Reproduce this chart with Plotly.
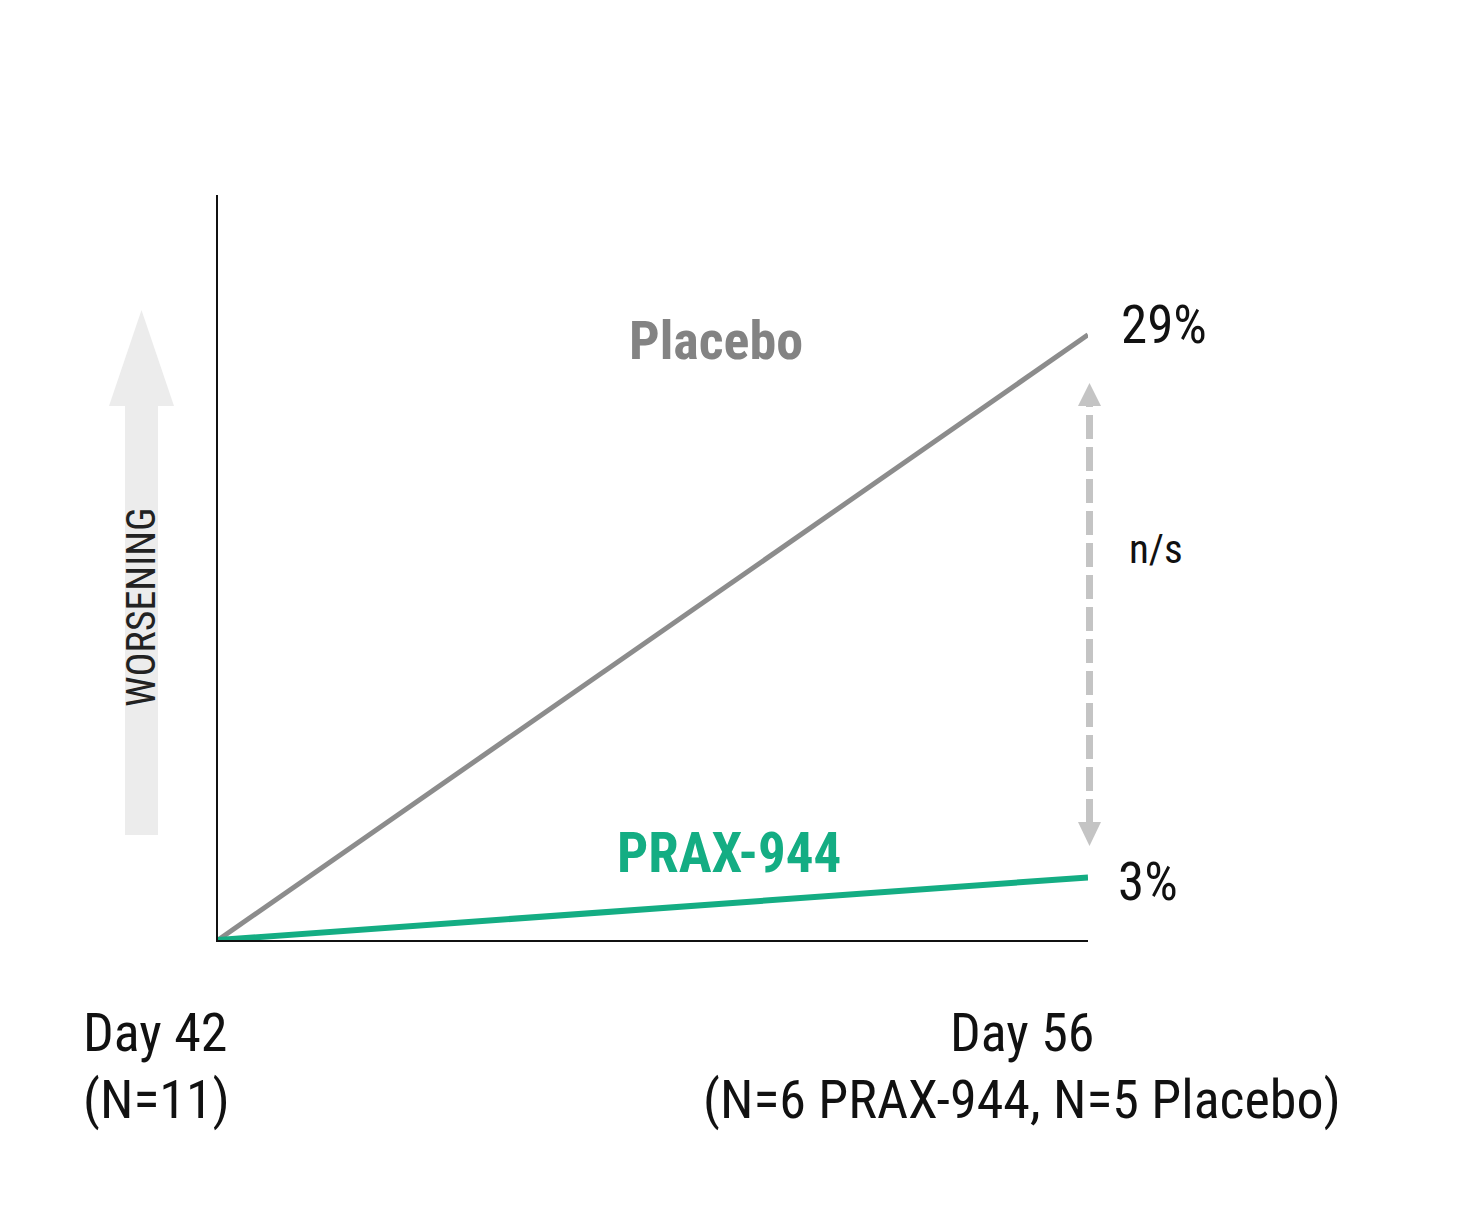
import plotly.graph_objects as go

days = [42, 56]
placebo = [0, 29]
prax = [0, 3]
x_label_top = ["Day 42", "Day 56"]
x_label_bottom = ["(N=11)", "(N=6 PRAX-944, N=5 Placebo)"]
end_labels = ["29%", "3%"]
series_names = ["Placebo", "PRAX-944"]

W, H = 1472, 1205
OFF = 8  # page body margin
L, R, T, B = 218, 1088, 195, 940
YMAX = 35.7

FONT = "Roboto Condensed, Liberation Sans Narrow, DejaVu Sans Condensed, Roboto, sans-serif"
GRAY = "#8c8c8c"
TXTGRAY = "#838383"
GREEN = "#14ad83"
DASH = "#c4c4c4"


def px(xp):
    return (xp - L) / (R - L)


def py(yp):
    return (B - yp) / (B - T)


fig = go.Figure()
fig.add_trace(go.Scatter(x=days, y=placebo, mode="lines", name=series_names[0],
                         line=dict(color=GRAY, width=5), showlegend=False, hoverinfo="skip"))
fig.add_trace(go.Scatter(x=days, y=prax, mode="lines", name=series_names[1],
                         line=dict(color=GREEN, width=6), showlegend=False, hoverinfo="skip"))

shapes = []
# WORSENING arrow (background decoration)
shapes.append(dict(type="rect", xref="paper", yref="paper",
                   x0=px(125), x1=px(158), y0=py(835), y1=py(405),
                   fillcolor="#ececec", line=dict(width=0), layer="below"))
shapes.append(dict(type="path", xref="paper", yref="paper",
                   path=f"M {px(109)},{py(406)} L {px(174)},{py(406)} L {px(141.5)},{py(310)} Z",
                   fillcolor="#ececec", line=dict(width=0), layer="below"))
# dashed comparison arrow
ax = px(1089.5)
shapes.append(dict(type="line", xref="paper", yref="paper",
                   x0=ax, x1=ax, y0=py(823), y1=py(405),
                   line=dict(color=DASH, width=7, dash="24px,8px")))
shapes.append(dict(type="path", xref="paper", yref="paper",
                   path=f"M {px(1078)},{py(406)} L {px(1101)},{py(406)} L {ax},{py(383)} Z",
                   fillcolor=DASH, line=dict(width=0)))
shapes.append(dict(type="path", xref="paper", yref="paper",
                   path=f"M {px(1078)},{py(822)} L {px(1101)},{py(822)} L {ax},{py(846)} Z",
                   fillcolor=DASH, line=dict(width=0)))

ann = []
ann.append(dict(x=days[1], y=placebo[1], xref="x", yref="y", text=end_labels[0],
                showarrow=False, xanchor="left", yanchor="middle", xshift=31, yshift=10,
                font=dict(family=FONT, size=53, color="#111111")))
ann.append(dict(x=days[1], y=prax[1], xref="x", yref="y", text=end_labels[1],
                showarrow=False, xanchor="left", yanchor="middle", xshift=28, yshift=-5,
                font=dict(family=FONT, size=53, color="#111111")))
ann.append(dict(x=px(716), y=py(340), xref="paper", yref="paper", text=f"<b>{series_names[0]}</b>",
                showarrow=False, xanchor="center", yanchor="middle",
                font=dict(family=FONT, size=54, color=TXTGRAY)))
ann.append(dict(x=px(729), y=py(853), xref="paper", yref="paper", text=f"<b>{series_names[1]}</b>",
                showarrow=False, xanchor="center", yanchor="middle",
                font=dict(family=FONT, size=55, color=GREEN)))
ann.append(dict(x=px(1156), y=py(549), xref="paper", yref="paper", text="n/s",
                showarrow=False, xanchor="center", yanchor="middle",
                font=dict(family=FONT, size=41, color="#111111")))
ann.append(dict(x=px(141), y=py(607), xref="paper", yref="paper", text="WORSENING",
                showarrow=False, textangle=-90, xanchor="center", yanchor="middle",
                font=dict(family=FONT, size=40, color="#222222")))
# x-axis end labels
ann.append(dict(x=px(81), y=py(1032), xref="paper", yref="paper", text=x_label_top[0],
                showarrow=False, xanchor="left", yanchor="middle",
                font=dict(family=FONT, size=54, color="#111111")))
ann.append(dict(x=px(81), y=py(1099), xref="paper", yref="paper", text=x_label_bottom[0],
                showarrow=False, xanchor="left", yanchor="middle",
                font=dict(family=FONT, size=54, color="#111111")))
ann.append(dict(x=px(1022), y=py(1032), xref="paper", yref="paper", text=x_label_top[1],
                showarrow=False, xanchor="center", yanchor="middle",
                font=dict(family=FONT, size=54, color="#111111")))
ann.append(dict(x=px(1022), y=py(1099), xref="paper", yref="paper", text=x_label_bottom[1],
                showarrow=False, xanchor="center", yanchor="middle",
                font=dict(family=FONT, size=54, color="#111111")))

fig.update_layout(
    width=W - 2 * OFF, height=H - 2 * OFF,
    margin=dict(l=L - OFF, r=W - R - OFF, t=T - OFF, b=H - B - OFF, pad=0),
    paper_bgcolor="white", plot_bgcolor="white",
    xaxis=dict(range=[days[0], days[1]], showgrid=False, zeroline=False, showticklabels=False,
               ticks="", showline=True, linecolor="#111111", linewidth=2, fixedrange=True),
    yaxis=dict(range=[0, YMAX], showgrid=False, zeroline=False, showticklabels=False,
               ticks="", showline=True, linecolor="#111111", linewidth=2, fixedrange=True),
    shapes=shapes, annotations=ann, showlegend=False,
)
fig.update_traces(cliponaxis=False)
fig.write_html("out.html")
